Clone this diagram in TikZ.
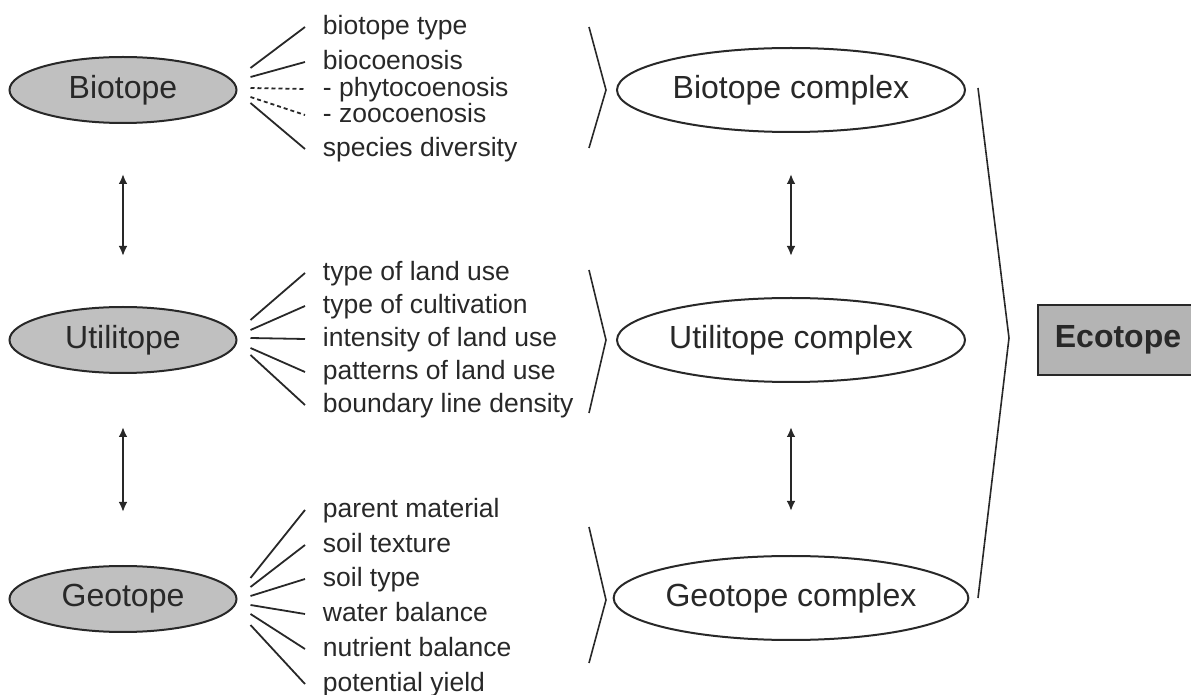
\documentclass[tikz,border=0pt]{standalone}
\usepackage{fontspec}
\setmainfont{Liberation Sans}
\usetikzlibrary{calc, positioning}
\usetikzlibrary{shapes.geometric}
\usetikzlibrary{arrows.meta}

\definecolor{ink}{RGB}{40,40,40}
\definecolor{shade}{RGB}{192,192,192}
\definecolor{boxshade}{RGB}{180,180,180}

\begin{document}
\begin{tikzpicture}[x=0.5pt, y=-0.5pt, line width=0.9pt, color=ink,
  topo/.style={ellipse, draw, line width=1pt, fill=shade, minimum width=113.5pt, minimum height=33pt, inner sep=0pt, font=\fontsize{16}{19}\selectfont},
  cplx/.style={ellipse, draw, line width=1pt, minimum width=174pt, minimum height=42pt, inner sep=0pt, font=\fontsize{16}{19}\selectfont},
  ecobox/.style={draw, line width=1pt, fill=boxshade, minimum width=80pt, minimum height=35pt, inner sep=0pt, font=\fontsize{16}{19}\selectfont\bfseries},
  item/.style={anchor=base west, inner xsep=8.5pt, inner ysep=0pt, text height=11pt, text depth=3pt, font=\fontsize{13.25}{15}\selectfont},
  link/.style={{Latex[length=5pt,width=4.4pt]}-{Latex[length=5pt,width=4.4pt]}, line width=1pt, shorten <=#1, shorten >=#1},
  link/.default=25pt
]
\useasboundingbox (0,0) rectangle (1191,695);
\clip (0,0) rectangle (1191,695);

% the three topes and their complexes
\node[topo] (bio) at (123,90) {Biotope};
\node[topo] (uti) at (123,340) {Utilitope};
\node[topo] (geo) at (123,599) {Geotope};

\node[cplx] (bioc) at (791,90) {Biotope complex};
\node[cplx] (utic) at (791,340) {Utilitope complex};
\node[cplx] (geoc) at (791,598) {Geotope complex};

\node[ecobox, anchor=west] (eco) at (1037,340) {Ecotope};

\draw[link] (bio) -- (uti);
\draw[link=26.5pt] (uti) -- (geo);
\draw[link=20.5pt] (bioc) -- (utic);
\draw[link=22pt] (utic) -- (geoc);

% features
\node[item] (bt) at (305,35) {biotope type};
\node[item] (bc) at (305,70) {biocoenosis};
\node[item] (ph) at (305,97) {- phytocoenosis};
\node[item] (zo) at (305,123) {- zoocoenosis};
\node[item] (sd) at (305,157) {species diversity};

\node[item] (lu) at (305,281) {type of land use};
\node[item] (cu) at (305,314) {type of cultivation};
\node[item] (in) at (305,347) {intensity of land use};
\node[item] (pa) at (305,380) {patterns of land use};
\node[item] (bd) at (305,413) {boundary line density};

\node[item] (pm) at (305,518) {parent material};
\node[item] (st) at (305,553) {soil texture};
\node[item] (sy) at (305,587) {soil type};
\node[item] (wb) at (305,622) {water balance};
\node[item] (nb) at (305,657) {nutrient balance};
\node[item] (py) at (305,692) {potential yield};

\draw ($(bio.east)+(13,-22)$) -- (bt.west);
\draw ($(bio.east)+(13,-13)$) -- (bc.west);
\draw[dash pattern=on 2pt off 1.5pt] ($(bio.east)+(13,-2)$) -- (ph.west);
\draw[dash pattern=on 2pt off 1.5pt] ($(bio.east)+(13,7)$) -- (zo.west);
\draw ($(bio.east)+(13,13)$) -- (sd.west);

\draw ($(uti.east)+(13,-20)$) -- (lu.west);
\draw ($(uti.east)+(13,-10)$) -- (cu.west);
\draw ($(uti.east)+(13,-2)$) -- (in.west);
\draw ($(uti.east)+(13,8)$) -- (pa.west);
\draw ($(uti.east)+(13,15)$) -- (bd.west);

\draw ($(geo.east)+(13,-21)$) -- (pm.west);
\draw ($(geo.east)+(13,-12)$) -- (st.west);
\draw ($(geo.east)+(13,-3)$) -- (sy.west);
\draw ($(geo.east)+(13,6)$) -- (wb.west);
\draw ($(geo.east)+(13,15)$) -- (nb.west);
\draw ($(geo.east)+(13,26)$) -- (py.west);

% brackets
\coordinate (B1) at (589,27);
\coordinate (B2) at (606,90);
\coordinate (B3) at (589,148);
\coordinate (U1) at (589,270);
\coordinate (U2) at (606,340);
\coordinate (U3) at (589,413);
\coordinate (G1) at (589,527);
\coordinate (G2) at (606,600);
\coordinate (G3) at (589,663);
\coordinate (E1) at (978,88);
\coordinate (E2) at (1009,338);
\coordinate (E3) at (978,598);

\draw[line width=0.8pt] (B1) -- (B2) -- (B3);
\draw[line width=0.8pt] (U1) -- (U2) -- (U3);
\draw[line width=0.8pt] (G1) -- (G2) -- (G3);
\draw[line width=0.8pt] (E1) -- (E2) -- (E3);
\end{tikzpicture}
\end{document}
